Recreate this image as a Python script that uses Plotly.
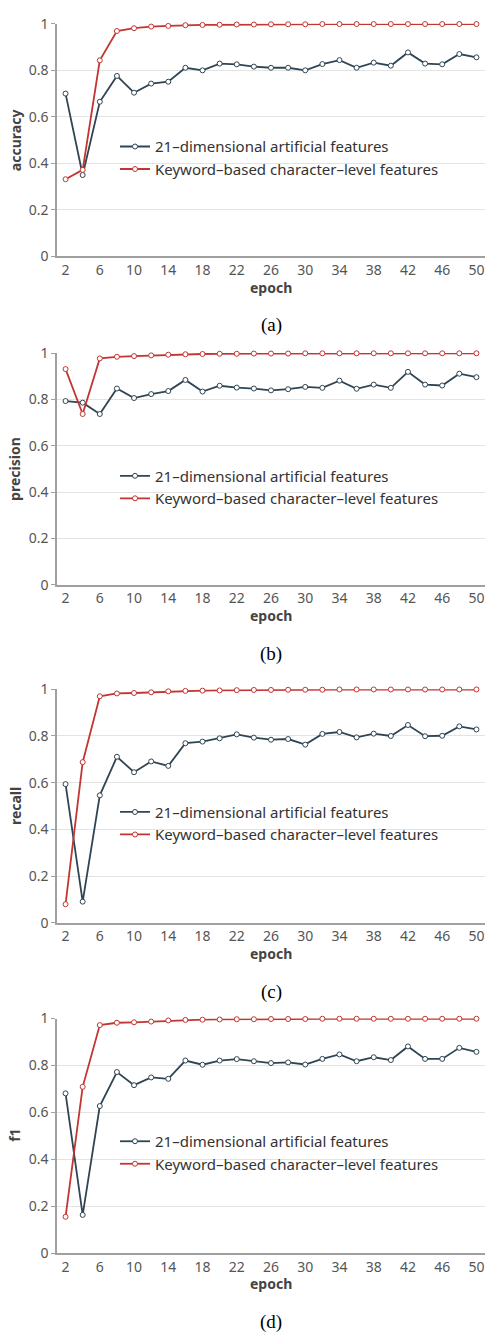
import plotly.graph_objects as go

epochs = list(range(2, 51, 2))
x_tick_labels = [str(v) for v in range(2, 51, 4)]
x_minor_ticks = list(range(4, 49, 4))
y_ticks = [0, 0.2, 0.4, 0.6, 0.8, 1]
y_tick_labels = ["0", "0.2", "0.4", "0.6", "0.8", "1"]

series_names = ["21\u2013dimensional artificial features", "Keyword\u2013based character\u2013level features"]
metrics = ["accuracy", "precision", "recall", "f1"]
captions = ["(a)", "(b)", "(c)", "(d)"]

artificial_accuracy = [0.70, 0.35, 0.665, 0.776, 0.704, 0.743, 0.751, 0.811, 0.800, 0.829, 0.826, 0.816, 0.811,
                       0.811, 0.800, 0.827, 0.844, 0.811, 0.833, 0.820, 0.877, 0.829, 0.826, 0.870, 0.856]
keyword_accuracy = [0.332, 0.372, 0.843, 0.969, 0.981, 0.988, 0.991, 0.994, 0.995, 0.996, 0.997, 0.997, 0.998,
                    0.998, 0.998, 0.999, 0.999, 0.999, 0.999, 0.999, 0.999, 0.999, 0.999, 0.999, 0.999]

artificial_precision = [0.793, 0.786, 0.737, 0.847, 0.806, 0.823, 0.836, 0.884, 0.834, 0.859, 0.851, 0.847, 0.839,
                        0.844, 0.854, 0.850, 0.881, 0.846, 0.864, 0.850, 0.919, 0.864, 0.860, 0.911, 0.896]
keyword_precision = [0.931, 0.737, 0.977, 0.984, 0.987, 0.990, 0.993, 0.995, 0.996, 0.997, 0.997, 0.998, 0.998,
                     0.998, 0.999, 0.999, 0.999, 0.999, 0.999, 0.999, 0.999, 0.999, 0.999, 0.999, 0.999]

artificial_recall = [0.594, 0.091, 0.546, 0.711, 0.645, 0.691, 0.672, 0.769, 0.776, 0.790, 0.807, 0.793, 0.784,
                     0.787, 0.763, 0.809, 0.817, 0.794, 0.810, 0.800, 0.847, 0.799, 0.801, 0.841, 0.828]
keyword_recall = [0.080, 0.688, 0.970, 0.982, 0.984, 0.987, 0.991, 0.993, 0.994, 0.995, 0.996, 0.997, 0.997,
                  0.998, 0.998, 0.998, 0.999, 0.999, 0.999, 0.999, 0.999, 0.999, 0.999, 0.999, 0.999]

artificial_f1 = [0.681, 0.163, 0.627, 0.772, 0.716, 0.749, 0.743, 0.821, 0.803, 0.821, 0.827, 0.818, 0.810,
                 0.813, 0.804, 0.828, 0.847, 0.818, 0.835, 0.823, 0.881, 0.828, 0.828, 0.875, 0.858]
keyword_f1 = [0.155, 0.709, 0.972, 0.982, 0.984, 0.987, 0.992, 0.994, 0.995, 0.996, 0.997, 0.997, 0.998,
              0.998, 0.998, 0.999, 0.999, 0.999, 0.999, 0.999, 0.999, 0.999, 0.999, 0.999, 0.999]

panel_data = [
    (artificial_accuracy, keyword_accuracy),
    (artificial_precision, keyword_precision),
    (artificial_recall, keyword_recall),
    (artificial_f1, keyword_f1),
]

colors = ["#2f4554", "#c23531"]

W, H = 487, 1343
panel_tops = [14, 348, 689, 1023]
panel_bottoms = [250, 583, 926, 1261]
x_left, x_right = 57, 485

FONT = "Noto Sans"
AXIS_GREY = "#a0a0a0"

fig = go.Figure()
layout = dict(
    width=W, height=H,
    margin=dict(l=0, r=0, t=0, b=0),
    paper_bgcolor="white", plot_bgcolor="white",
    font=dict(family=FONT, size=14, color="#555"),
    showlegend=True,
    annotations=[],
)

def py(px):
    return 1 - px / H

for i in range(4):
    n = i + 1
    xa = "x" if n == 1 else f"x{n}"
    ya = "y" if n == 1 else f"y{n}"
    leg = "legend" if n == 1 else f"legend{n}"
    for s in range(2):
        fig.add_trace(go.Scatter(
            x=epochs, y=panel_data[i][s],
            mode="lines+markers",
            name=series_names[s],
            line=dict(color=colors[s], width=1.8),
            marker=dict(symbol="circle", size=5, color="white",
                        line=dict(color=colors[s], width=1)),
            xaxis=xa, yaxis=ya, legend=leg,
            cliponaxis=False,
        ))
    top, bot = panel_tops[i], panel_bottoms[i]
    ydom = [py(bot), py(top)]
    xdom = [x_left / W, x_right / W]
    layout[f"xaxis{'' if n == 1 else n}"] = dict(
        domain=xdom, anchor=ya, range=[1, 51],
        tickmode="array", tickvals=[int(v) for v in x_tick_labels], ticktext=x_tick_labels,
        ticks="", showline=True, linecolor=AXIS_GREY, linewidth=1.5,
        showgrid=False, zeroline=False,
        tickfont=dict(family=FONT, size=14, color="#555"),
    )
    layout[f"xaxis{n + 4}"] = dict(
        overlaying=xa, anchor=ya, range=[1, 51],
        tickmode="array", tickvals=x_minor_ticks,
        ticks="outside", ticklen=4, tickcolor=AXIS_GREY, tickwidth=1,
        showticklabels=False, showline=False, showgrid=False, zeroline=False,
    )
    layout[f"yaxis{'' if n == 1 else n}"] = dict(
        domain=ydom, anchor=xa, range=[0, 1],
        tickmode="array", tickvals=y_ticks, ticktext=y_tick_labels,
        ticks="outside", ticklen=4, tickcolor=AXIS_GREY,
        showline=True, linecolor=AXIS_GREY, linewidth=1.5,
        showgrid=True, gridcolor="#e3e3e3", gridwidth=1, zeroline=False,
        tickfont=dict(family=FONT, size=14, color="#555"),
    )
    layout[leg] = dict(
        x=115 / W, xanchor="left",
        y=py(top + 130 - 22), yanchor="top",
        bgcolor="rgba(0,0,0,0)",
        font=dict(family=FONT, size=15, color="#333"),
        tracegroupgap=0,
    )
    layout["annotations"] += [
        dict(text=metrics[i], x=15 / W, y=py((top + bot) / 2), xref="paper", yref="paper",
             xanchor="center", yanchor="middle",
             textangle=-90, showarrow=False,
             font=dict(family=FONT, size=14, color="#444", weight="bold")),
        dict(text="epoch", x=(x_left + x_right) / 2 / W, y=py(bot + 31), xref="paper", yref="paper",
             xanchor="center", yanchor="middle",
             showarrow=False, font=dict(family=FONT, size=14, color="#444", weight="bold")),
        dict(text=captions[i], x=(x_left + x_right) / 2 / W, y=py(bot + 70), xref="paper", yref="paper",
             xanchor="center", yanchor="middle",
             showarrow=False, font=dict(family="Liberation Serif", size=19, color="#000")),
    ]

fig.update_layout(**layout)
fig.write_html("out.html", config={"displayModeBar": False},
               post_script="document.body.style.margin='0';document.body.style.overflow='hidden';")
